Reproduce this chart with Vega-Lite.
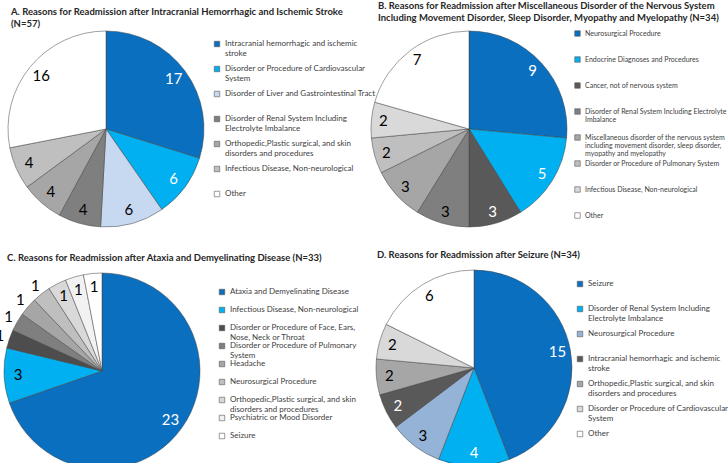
{
  "$schema": "https://vega.github.io/schema/vega-lite/v6.json",
  "background": "white",
  "padding": {"left": -6, "top": 0, "right": 0, "bottom": 0},
  "config": {
    "view": {"stroke": null},
    "title": {"fontSize": 9.5, "fontWeight": "bold", "font": "Lato", "color": "#262626", "anchor": "start", "lineHeight": 12, "offset": 2},
    "legend": {"title": null, "symbolType": "square", "symbolSize": 30, "symbolStrokeColor": "#595959", "symbolStrokeWidth": 0.6, "labelFontSize": 8, "labelColor": "#404040", "labelFont": "Lato", "labelLimit": 0, "gridAlign": "all", "symbolOffset": 0, "padding": 0}
  },
  "resolve": {"scale": {"color": "independent", "theta": "independent"}, "legend": {"color": "independent"}},
  "datasets": {
    "A": [
      {"reason": "Intracranial hemorrhagic and ischemic stroke", "count": 17},
      {"reason": "Disorder or Procedure of Cardiovascular System", "count": 6},
      {"reason": "Disorder of Liver and Gastrointestinal Tract", "count": 6},
      {"reason": "Disorder of Renal System Including Electrolyte Imbalance", "count": 4},
      {"reason": "Orthopedic,Plastic surgical, and skin disorders and procedures", "count": 4},
      {"reason": "Infectious Disease, Non-neurological", "count": 4},
      {"reason": "Other", "count": 16}
    ],
    "B": [
      {"reason": "Neurosurgical Procedure", "count": 9},
      {"reason": "Endocrine Diagnoses and Procedures", "count": 5},
      {"reason": "Cancer, not of nervous system", "count": 3},
      {"reason": "Disorder of Renal System Including Electrolyte Imbalance", "count": 3},
      {"reason": "Miscellaneous disorder of the nervous system including movement disorder, sleep disorder, myopathy and myelopathy", "count": 3},
      {"reason": "Disorder or Procedure of Pulmonary System", "count": 2},
      {"reason": "Infectious Disease, Non-neurological", "count": 2},
      {"reason": "Other", "count": 7}
    ],
    "C": [
      {"reason": "Ataxia and Demyelinating Disease", "count": 23},
      {"reason": "Infectious Disease, Non-neurological", "count": 3},
      {"reason": "Disorder or Procedure of Face, Ears, Nose, Neck or Throat", "count": 1},
      {"reason": "Disorder or Procedure of Pulmonary System", "count": 1},
      {"reason": "Headache", "count": 1},
      {"reason": "Neurosurgical Procedure", "count": 1},
      {"reason": "Orthopedic,Plastic surgical, and skin disorders and procedures", "count": 1},
      {"reason": "Psychiatric or Mood Disorder", "count": 1},
      {"reason": "Seizure", "count": 1}
    ],
    "D": [
      {"reason": "Seizure", "count": 15},
      {"reason": "Disorder of Renal System Including Electrolyte Imbalance", "count": 4},
      {"reason": "Neurosurgical Procedure", "count": 3},
      {"reason": "Intracranial hemorrhagic and ischemic stroke", "count": 2},
      {"reason": "Orthopedic,Plastic surgical, and skin disorders and procedures", "count": 2},
      {"reason": "Disorder or Procedure of Cardiovascular System", "count": 2},
      {"reason": "Other", "count": 6}
    ]
  },
  "bounds": "flush",
  "columns": 2,
  "spacing": {"column": 167, "row": 44},
  "concat": [
    {
      "width": 196, "height": 196,
      "data": {"name": "A"},
      "title": {"text": ["A. Reasons for Readmission after Intracranial Hemorrhagic and Ischemic Stroke", "(N=57)"], "dx": 4},
      "transform": [{"window": [{"op": "row_number", "as": "idx"}]}],
      "encoding": {
        "theta": {"field": "count", "type": "quantitative", "stack": true},
        "order": {"field": "idx", "type": "quantitative"}
      },
      "layer": [
        {
          "mark": {"type": "arc", "outerRadius": 98, "stroke": "#404040", "strokeWidth": 0.5},
          "encoding": {
            "color": {
              "field": "reason", "type": "nominal",
              "scale": {
                "domain": ["Intracranial hemorrhagic and ischemic stroke", "Disorder or Procedure of Cardiovascular System", "Disorder of Liver and Gastrointestinal Tract", "Disorder of Renal System Including Electrolyte Imbalance", "Orthopedic,Plastic surgical, and skin disorders and procedures", "Infectious Disease, Non-neurological", "Other"],
                "range": ["#0B6FBF", "#00B0F0", "#C6D9F1", "#7F7F7F", "#A6A6A6", "#BFBFBF", "#FFFFFF"]
              },
              "legend": {
                "orient": "none", "legendX": 205, "legendY": 9, "rowPadding": 7,
                "labelExpr": "datum.label == 'Intracranial hemorrhagic and ischemic stroke' ? ['Intracranial hemorrhagic and ischemic', 'stroke'] : datum.label == 'Disorder or Procedure of Cardiovascular System' ? ['Disorder or Procedure of Cardiovascular', 'System'] : datum.label == 'Disorder of Renal System Including Electrolyte Imbalance' ? ['Disorder of Renal System Including', 'Electrolyte Imbalance'] : datum.label == 'Orthopedic,Plastic surgical, and skin disorders and procedures' ? ['Orthopedic,Plastic surgical, and skin', 'disorders and procedures'] : datum.label"
              }
            }
          }
        },
        {
          "mark": {"type": "text", "radius": 84, "fontSize": 15, "font": "Lato"},
          "encoding": {
            "text": {"field": "count", "type": "quantitative"},
            "color": {"condition": {"test": "indexof(['Intracranial hemorrhagic and ischemic stroke', 'Disorder or Procedure of Cardiovascular System'], datum.reason) >= 0", "value": "white"}, "value": "black"}
          }
        }
      ]
    },
    {
      "width": 196, "height": 196,
      "data": {"name": "B"},
      "title": {"text": ["B. Reasons for Readmission after Miscellaneous Disorder of the Nervous System", "Including Movement Disorder, Sleep Disorder, Myopathy and Myelopathy (N=34)"], "dx": 8, "offset": 8},
      "transform": [{"window": [{"op": "row_number", "as": "idx"}]}],
      "encoding": {
        "theta": {"field": "count", "type": "quantitative", "stack": true},
        "order": {"field": "idx", "type": "quantitative"}
      },
      "layer": [
        {
          "mark": {"type": "arc", "outerRadius": 98, "stroke": "#404040", "strokeWidth": 0.5},
          "encoding": {
            "color": {
              "field": "reason", "type": "nominal",
              "scale": {
                "domain": ["Neurosurgical Procedure", "Endocrine Diagnoses and Procedures", "Cancer, not of nervous system", "Disorder of Renal System Including Electrolyte Imbalance", "Miscellaneous disorder of the nervous system including movement disorder, sleep disorder, myopathy and myelopathy", "Disorder or Procedure of Pulmonary System", "Infectious Disease, Non-neurological", "Other"],
                "range": ["#0B6FBF", "#00B0F0", "#595959", "#7F7F7F", "#A6A6A6", "#BFBFBF", "#D9D9D9", "#FFFFFF"]
              },
              "legend": {
                "orient": "none", "legendX": 203, "legendY": -1, "rowPadding": 1, "labelFontSize": 7,
                "encode": {"labels": {"update": {"lineHeight": {"value": 8.3}}}},
                "labelExpr": "datum.label == 'Disorder of Renal System Including Electrolyte Imbalance' ? ['Disorder of Renal System Including Electrolyte', 'Imbalance'] : datum.label == 'Miscellaneous disorder of the nervous system including movement disorder, sleep disorder, myopathy and myelopathy' ? ['Miscellaneous disorder of the nervous system', 'including movement disorder, sleep disorder,', 'myopathy and myelopathy'] : datum.label"
              }
            }
          }
        },
        {
          "mark": {"type": "text", "radius": 86, "fontSize": 15, "font": "Lato"},
          "encoding": {
            "text": {"field": "count", "type": "quantitative"},
            "color": {"condition": {"test": "indexof(['Neurosurgical Procedure', 'Endocrine Diagnoses and Procedures', 'Cancer, not of nervous system'], datum.reason) >= 0", "value": "white"}, "value": "black"}
          }
        }
      ]
    },
    {
      "width": 188, "height": 200,
      "data": {"name": "C"},
      "title": {"text": "C. Reasons for Readmission after Ataxia and Demyelinating Disease (N=33)", "dx": 13, "offset": -6},
      "transform": [{"window": [{"op": "row_number", "as": "idx"}]}],
      "encoding": {
        "theta": {"field": "count", "type": "quantitative", "stack": true},
        "order": {"field": "idx", "type": "quantitative"}
      },
      "layer": [
        {
          "mark": {"type": "arc", "outerRadius": 98, "stroke": "#404040", "strokeWidth": 0.5},
          "encoding": {
            "color": {
              "field": "reason", "type": "nominal",
              "scale": {
                "domain": ["Ataxia and Demyelinating Disease", "Infectious Disease, Non-neurological", "Disorder or Procedure of Face, Ears, Nose, Neck or Throat", "Disorder or Procedure of Pulmonary System", "Headache", "Neurosurgical Procedure", "Orthopedic,Plastic surgical, and skin disorders and procedures", "Psychiatric or Mood Disorder", "Seizure"],
                "range": ["#0B6FBF", "#00B0F0", "#4D4D4D", "#7F7F7F", "#A6A6A6", "#BFBFBF", "#D9D9D9", "#F2F2F2", "#FFFFFF"]
              },
              "legend": {
                "orient": "none", "legendX": 210, "legendY": 17, "rowPadding": 0,
                "labelExpr": "datum.label == 'Disorder or Procedure of Face, Ears, Nose, Neck or Throat' ? ['Disorder or Procedure of Face, Ears,', 'Nose, Neck or Throat'] : datum.label == 'Disorder or Procedure of Pulmonary System' ? ['Disorder or Procedure of Pulmonary', 'System'] : datum.label == 'Orthopedic,Plastic surgical, and skin disorders and procedures' ? ['Orthopedic,Plastic surgical, and skin', 'disorders and procedures'] : datum.label"
              }
            }
          }
        },
        {
          "mark": {"type": "text", "radius": 84, "fontSize": 15, "font": "Lato"},
          "encoding": {
            "text": {"condition": {"test": "indexof(['Disorder or Procedure of Face, Ears, Nose, Neck or Throat', 'Disorder or Procedure of Pulmonary System', 'Headache', 'Neurosurgical Procedure'], datum.reason) < 0", "field": "count", "type": "quantitative"}, "value": ""},
            "color": {"condition": {"test": "datum.reason == 'Ataxia and Demyelinating Disease'", "value": "white"}, "value": "black"}
          }
        },
        {
          "mark": {"type": "text", "radius": 108, "fontSize": 15, "font": "Lato", "color": "black"},
          "encoding": {
            "text": {"condition": {"test": "indexof(['Disorder or Procedure of Face, Ears, Nose, Neck or Throat', 'Disorder or Procedure of Pulmonary System', 'Headache', 'Neurosurgical Procedure'], datum.reason) >= 0", "field": "count", "type": "quantitative"}, "value": ""}
          }
        }
      ]
    },
    {
      "width": 206, "height": 194,
      "data": {"name": "D"},
      "title": {"text": "D. Reasons for Readmission after Seizure (N=34)", "dx": 6, "offset": 10},
      "transform": [{"window": [{"op": "row_number", "as": "idx"}]}],
      "encoding": {
        "theta": {"field": "count", "type": "quantitative", "stack": true},
        "order": {"field": "idx", "type": "quantitative"}
      },
      "layer": [
        {
          "mark": {"type": "arc", "outerRadius": 98, "stroke": "#404040", "strokeWidth": 0.5},
          "encoding": {
            "color": {
              "field": "reason", "type": "nominal",
              "scale": {
                "domain": ["Seizure", "Disorder of Renal System Including Electrolyte Imbalance", "Neurosurgical Procedure", "Intracranial hemorrhagic and ischemic stroke", "Orthopedic,Plastic surgical, and skin disorders and procedures", "Disorder or Procedure of Cardiovascular System", "Other"],
                "range": ["#0B6FBF", "#00B0F0", "#95B3D7", "#595959", "#A6A6A6", "#D9D9D9", "#FFFFFF"]
              },
              "legend": {
                "orient": "none", "legendX": 205, "legendY": 9, "rowPadding": 7,
                "labelExpr": "datum.label == 'Disorder of Renal System Including Electrolyte Imbalance' ? ['Disorder of Renal System Including', 'Electrolyte Imbalance'] : datum.label == 'Intracranial hemorrhagic and ischemic stroke' ? ['Intracranial hemorrhagic and ischemic', 'stroke'] : datum.label == 'Orthopedic,Plastic surgical, and skin disorders and procedures' ? ['Orthopedic,Plastic surgical, and skin', 'disorders and procedures'] : datum.label == 'Disorder or Procedure of Cardiovascular System' ? ['Disorder or Procedure of Cardiovascular', 'System'] : datum.label"
              }
            }
          }
        },
        {
          "mark": {"type": "text", "radius": 85, "fontSize": 15, "font": "Lato"},
          "encoding": {
            "text": {"field": "count", "type": "quantitative"},
            "color": {"condition": {"test": "indexof(['Seizure', 'Disorder of Renal System Including Electrolyte Imbalance', 'Intracranial hemorrhagic and ischemic stroke'], datum.reason) >= 0", "value": "white"}, "value": "black"}
          }
        }
      ]
    }
  ]
}
